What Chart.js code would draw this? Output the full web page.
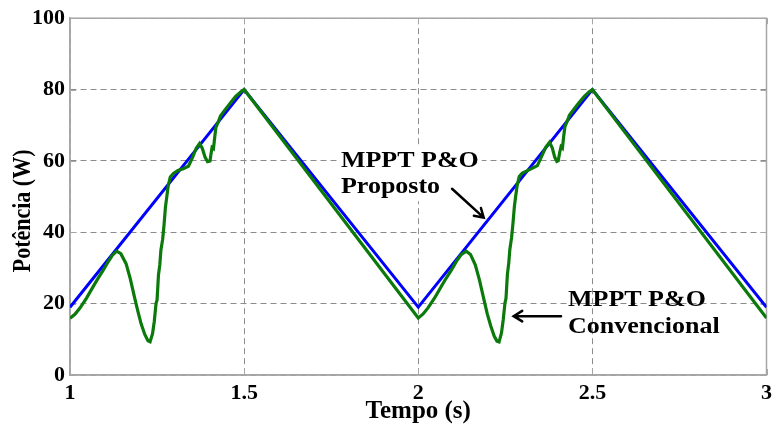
<!DOCTYPE html>
<html>
<head>
<meta charset="utf-8">
<script src="https://cdn.jsdelivr.net/npm/chart.js@4/dist/chart.umd.min.js"></script>
<style>
  html, body { margin: 0; padding: 0; background: #ffffff; }
  #wrap { width: 777px; height: 432px; }
</style>
</head>
<body>
<div id="wrap"><canvas id="c" width="777" height="432"></canvas></div>
<script>
// Proposed MPPT P&O: triangular power ramp
const tempoProposto = [1.0, 1.5, 2.0, 2.5, 3.0];
const potenciaProposto = [19, 80, 19, 80, 19];

// Conventional MPPT P&O: loses the maximum point on each rising ramp
const tempoConvencional = [
  1.000, 1.014, 1.028, 1.047, 1.066, 1.080, 1.095, 1.110, 1.122, 1.134,
  1.146, 1.161, 1.173, 1.185, 1.195, 1.204, 1.215, 1.224, 1.230, 1.237,
  1.242, 1.247, 1.250, 1.254, 1.258, 1.261, 1.266, 1.270, 1.274, 1.278,
  1.282, 1.288, 1.297, 1.310, 1.325, 1.340, 1.352, 1.362, 1.372, 1.380,
  1.388, 1.395, 1.402, 1.405, 1.408, 1.412, 1.416, 1.419, 1.426, 1.432,
  1.445, 1.460, 1.475, 1.490, 1.500,
  2.000, 2.014, 2.028, 2.047, 2.066, 2.080, 2.095, 2.110, 2.124, 2.138,
  2.150, 2.164, 2.176, 2.188, 2.198, 2.208, 2.218, 2.226, 2.232, 2.239,
  2.244, 2.249, 2.252, 2.256, 2.260, 2.263, 2.268, 2.272, 2.276, 2.280,
  2.284, 2.290, 2.299, 2.312, 2.327, 2.342, 2.354, 2.366, 2.377, 2.385,
  2.392, 2.398, 2.402, 2.406, 2.410, 2.414, 2.418, 2.421, 2.428, 2.434,
  2.447, 2.462, 2.477, 2.491, 2.500,
  3.000
];
const potenciaConvencional = [
  15.9, 17.0, 18.7, 21.5, 24.7, 27.0, 29.3, 31.8, 33.6, 34.7,
  34.0, 31.2, 27.0, 21.9, 17.8, 14.4, 11.3, 9.6, 9.3, 11.6,
  15.0, 20.0, 21.0, 28.0, 31.0, 35.0, 38.0, 42.0, 47.0, 50.0,
  53.0, 55.5, 56.5, 57.3, 57.8, 58.5, 61.0, 63.5, 64.9, 63.5,
  61.0, 59.8, 60.0, 62.0, 63.8, 63.5, 67.0, 69.4, 71.0, 72.6,
  74.3, 76.2, 78.0, 79.3, 80.0,
  16.0, 17.1, 18.8, 21.6, 24.8, 27.1, 29.4, 31.9, 33.8, 34.7,
  33.8, 30.8, 26.5, 21.4, 17.2, 13.8, 10.9, 9.5, 9.3, 11.8,
  15.5, 20.2, 21.5, 28.2, 31.5, 35.2, 38.5, 42.5, 47.2, 50.3,
  53.1, 55.6, 56.6, 57.2, 57.9, 58.7, 61.2, 63.8, 65.2, 63.6,
  61.0, 59.9, 60.1, 62.3, 64.0, 63.6, 67.2, 69.5, 71.2, 72.8,
  74.5, 76.4, 78.1, 79.4, 80.0,
  16.0
];

// Axis ticks
const tempoTicks = [1, 1.5, 2, 2.5, 3];
const tempoTickLabels = ['1', '1.5', '2', '2.5', '3'];
const potenciaTicks = [0, 20, 40, 60, 80, 100];
const potenciaTickLabels = ['0', '20', '40', '60', '80', '100'];

const SERIF = '"Liberation Serif", "Times New Roman", serif';
const FRAME = '#a6a6a6';
const ESTICA = 1.13; // horizontal stretch of hand-drawn text

function pontos(xs, ys) {
  return xs.map((x, i) => ({ x: x, y: ys[i] }));
}

// Box around the plot area plus inward tick marks on every side
const moldura = {
  id: 'moldura',
  beforeDatasetsDraw(chart) {
    const { ctx, chartArea: a, scales } = chart;
    ctx.save();
    ctx.strokeStyle = FRAME;
    ctx.lineWidth = 1.5;
    ctx.setLineDash([]);
    ctx.strokeRect(a.left, a.top, a.right - a.left, a.bottom - a.top);
    ctx.lineWidth = 1;
    const t = 6;
    tempoTicks.forEach(v => {
      const x = Math.round(scales.x.getPixelForValue(v)) + 0.5;
      ctx.beginPath();
      ctx.moveTo(x, a.bottom); ctx.lineTo(x, a.bottom - t);
      ctx.moveTo(x, a.top); ctx.lineTo(x, a.top + t);
      ctx.stroke();
    });
    potenciaTicks.forEach(v => {
      const y = Math.round(scales.y.getPixelForValue(v)) + 0.5;
      ctx.beginPath();
      ctx.moveTo(a.left, y); ctx.lineTo(a.left + t, y);
      ctx.moveTo(a.right, y); ctx.lineTo(a.right - t, y);
      ctx.stroke();
    });
    ctx.restore();
  }
};

// Vertical axis title, drawn rotated beside the tick labels
const tituloY = {
  id: 'tituloY',
  afterDraw(chart) {
    const { ctx, scales } = chart;
    ctx.save();
    ctx.font = 'bold 22px ' + SERIF;
    ctx.fillStyle = '#000000';
    ctx.textAlign = 'center';
    ctx.textBaseline = 'middle';
    ctx.translate(24, scales.y.getPixelForValue(46));
    ctx.scale(ESTICA, 1);
    ctx.rotate(-Math.PI / 2);
    ctx.fillText('Potência (W)', 0, 0);
    ctx.restore();
  }
};

// Labels with arrows pointing at each curve
const rotulos = [
  { linhas: ['MPPT P&O', 'Proposto'], x: 1.778, y: 60.1, passo: 7.5, fundo: true,
    seta: [2.097, 52.2, 2.188, 44.1] },
  { linhas: ['MPPT P&O', 'Convencional'], x: 2.430, y: 20.9, passo: 7.5, fundo: false,
    seta: [2.410, 16.5, 2.274, 16.5] }
];

const anotacoes = {
  id: 'anotacoes',
  afterDatasetsDraw(chart) {
    const { ctx, scales } = chart;
    ctx.save();
    ctx.font = 'bold 23px ' + SERIF;
    ctx.textBaseline = 'middle';
    ctx.textAlign = 'left';
    rotulos.forEach(r => {
      const x0 = scales.x.getPixelForValue(r.x);
      const ys = r.linhas.map((_, i) => scales.y.getPixelForValue(r.y - i * r.passo));
      if (r.fundo) {
        const w = Math.max(...r.linhas.map(l => ctx.measureText(l).width)) * ESTICA;
        ctx.fillStyle = '#ffffff';
        ctx.fillRect(x0 - 3, ys[0] - 14, w + 6, ys[ys.length - 1] - ys[0] + 28);
      }
      ctx.fillStyle = '#000000';
      r.linhas.forEach((l, i) => {
        ctx.save();
        ctx.translate(x0, ys[i]);
        ctx.scale(ESTICA, 1);
        ctx.fillText(l, 0, 0);
        ctx.restore();
      });
      // arrow
      const [ax, ay, bx, by] = r.seta;
      const p1 = { x: scales.x.getPixelForValue(ax), y: scales.y.getPixelForValue(ay) };
      const p2 = { x: scales.x.getPixelForValue(bx), y: scales.y.getPixelForValue(by) };
      const ang = Math.atan2(p2.y - p1.y, p2.x - p1.x);
      const h = 10;
      ctx.strokeStyle = '#000000';
      ctx.lineWidth = 2.5;
      ctx.lineCap = 'round';
      ctx.beginPath();
      ctx.moveTo(p1.x, p1.y);
      ctx.lineTo(p2.x, p2.y);
      ctx.moveTo(p2.x - h * Math.cos(ang - 0.55), p2.y - h * Math.sin(ang - 0.55));
      ctx.lineTo(p2.x, p2.y);
      ctx.lineTo(p2.x - h * Math.cos(ang + 0.55), p2.y - h * Math.sin(ang + 0.55));
      ctx.stroke();
    });
    ctx.restore();
  }
};

new Chart(document.getElementById('c'), {
  type: 'line',
  data: {
    datasets: [
      {
        label: 'MPPT P&O Convencional',
        data: pontos(tempoConvencional, potenciaConvencional),
        borderColor: '#0b7a0b',
        borderWidth: 3.2,
        pointRadius: 0,
        tension: 0,
        fill: false,
        order: 0
      },
      {
        label: 'MPPT P&O Proposto',
        data: pontos(tempoProposto, potenciaProposto),
        borderColor: '#0000ff',
        borderWidth: 3,
        pointRadius: 0,
        tension: 0,
        fill: false,
        order: 1
      }
    ]
  },
  options: {
    responsive: false,
    animation: false,
    devicePixelRatio: 1,
    layout: { padding: { top: 17, right: 5, left: 0, bottom: 0 } },
    plugins: { legend: { display: false }, tooltip: { enabled: false } },
    scales: {
      x: {
        type: 'linear',
        min: 1, max: 3,
        afterFit(s) { s.height = 57; },
        afterBuildTicks(s) { s.ticks = tempoTicks.map(v => ({ value: v })); },
        ticks: {
          color: '#000000',
          padding: 5,
          maxRotation: 0,
          font: { family: SERIF, size: 22, weight: 'bold' },
          callback: (v) => tempoTickLabels[tempoTicks.indexOf(v)]
        },
        grid: { color: '#8c8c8c', lineWidth: 1, drawTicks: false },
        border: { display: true, color: FRAME, width: 1.5, dash: [6, 4] },
        title: {
          display: true, text: 'Tempo (s)', color: '#000000',
          font: { family: SERIF, size: 25, weight: 'bold' },
          padding: { top: 0, bottom: 5 }
        }
      },
      y: {
        type: 'linear',
        min: 0, max: 100,
        afterFit(s) { s.width = 70; },
        afterBuildTicks(s) { s.ticks = potenciaTicks.map(v => ({ value: v })); },
        ticks: {
          color: '#000000',
          padding: 5,
          font: { family: SERIF, size: 22, weight: 'bold' },
          callback: (v) => potenciaTickLabels[potenciaTicks.indexOf(v)]
        },
        grid: { color: '#8c8c8c', lineWidth: 1, drawTicks: false },
        border: { display: true, color: FRAME, width: 1.5, dash: [6, 4] },
        title: { display: false }
      }
    }
  },
  plugins: [moldura, tituloY, anotacoes]
});
</script>
</body>
</html>
